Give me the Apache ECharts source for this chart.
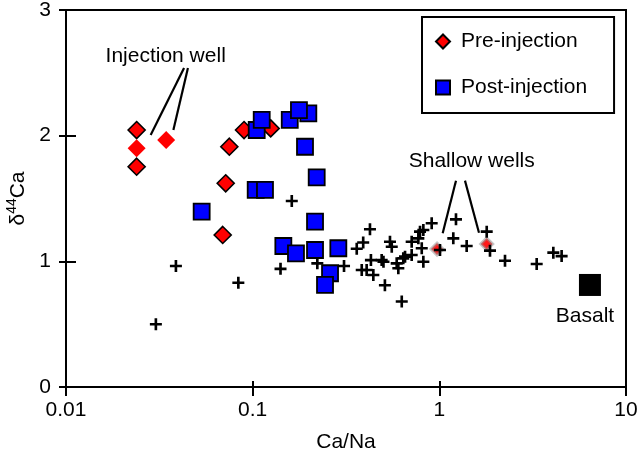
<!DOCTYPE html>
<html><head><meta charset="utf-8">
<script src="https://cdn.jsdelivr.net/npm/echarts@6/dist/echarts.min.js"></script>
<style>html,body{margin:0;padding:0;background:#fff}#c{width:638px;height:455px}</style>
</head><body><div id="c"></div>
<script>
var FONT = 'Liberation Sans, Arial, Helvetica, sans-serif';
var xTicks = [0.01, 0.1, 1, 10];
var yTicks = [0, 1, 2, 3];

var preInjection = [
  [0.0239, 2.045], [0.0239, 1.753], [0.075, 1.912], [0.0717, 1.621],
  [0.0691, 1.21], [0.0899, 2.045], [0.1249, 2.058]
];
var injectionWell = [[0.0239, 1.90], [0.0344, 1.965]];
var postInjection = [
  [0.0533, 1.395], [0.1038, 1.568], [0.1164, 1.568], [0.1051, 2.045],
  [0.1118, 2.125], [0.158, 2.125], [0.1987, 2.178], [0.177, 2.204],
  [0.1907, 1.912], [0.2203, 1.668], [0.2158, 1.316], [0.146, 1.122],
  [0.1706, 1.064], [0.2158, 1.09], [0.2877, 1.104], [0.2597, 0.905],
  [0.2441, 0.812]
];
var shallowWells = [[0.972, 1.098], [1.794, 1.138]];
var otherWells = [
  [0.0388, 0.963], [0.0303, 0.499], [0.0838, 0.83], [0.162, 1.48],
  [0.141, 0.94], [0.222, 0.984], [0.3086, 0.963], [0.361, 1.10],
  [0.391, 1.15], [0.425, 1.255], [0.384, 0.931], [0.443, 0.891],
  [0.511, 0.81], [0.629, 0.68], [0.544, 1.156], [0.556, 1.116],
  [0.491, 1.01], [0.502, 0.997], [0.408, 0.931], [0.711, 1.156],
  [0.591, 0.984], [0.603, 0.945], [0.641, 1.024], [0.655, 1.037],
  [0.711, 1.05], [0.821, 0.997], [0.788, 1.236], [0.821, 1.249],
  [0.910, 1.303], [0.772, 1.183], [0.805, 1.104], [1.228, 1.334],
  [1.188, 1.183], [1.401, 1.122], [1.008, 1.09], [1.794, 1.236],
  [1.868, 1.085], [2.248, 1.005], [3.323, 0.979], [4.08, 1.069],
  [4.52, 1.042], [0.43, 1.01]
];
var basalt = [[6.41, 0.812]];

var labelNotes = [
  {name: 'Injection well', value: [0.0342, 2.634]},
  {name: 'Shallow wells', value: [1.491, 1.798]},
  {name: 'Basalt', value: [6.03, 0.565]}
];
var pointerLines = [
  [[0.0429, 2.538], [0.02842, 2.005]],
  [[0.0450, 2.538], [0.0376, 2.045]],
  [[1.228, 1.642], [1.042, 1.223]],
  [[1.372, 1.642], [1.631, 1.228]]
];

var cross = 'path://M0,3.9H10V6.1H0Z M3.9,0H6.1V10H3.9Z';

var chart = echarts.init(document.getElementById('c'), null, {renderer: 'canvas'});
var xBase = {
  type: 'log', logBase: 10, min: 0.01, max: 10, gridIndex: 0, position: 'bottom',
  splitLine: {show: false}, minorTick: {show: false}
};
var yBase = {
  type: 'value', min: 0, max: 3, interval: 1, gridIndex: 0, position: 'left',
  splitLine: {show: false}
};
chart.setOption({
  animation: false,
  backgroundColor: '#fff',
  textStyle: {fontFamily: FONT, color: '#000'},
  grid: {left: 66, right: 12, top: 10, bottom: 68, outerBoundsMode: 'none', containLabel: false,
    show: true, borderColor: '#000', borderWidth: 2, backgroundColor: 'transparent'},
  legend: {
    data: ['Pre-injection', 'Post-injection'],
    orient: 'vertical', left: 422, top: 17,
    padding: [14, 27, 15, 13],
    itemWidth: 14, itemHeight: 14, itemGap: 25,
    borderColor: '#000', borderWidth: 2,
    textStyle: {fontFamily: FONT, fontSize: 21, color: '#000', lineHeight: 21, padding: [0, 0, 0, 6]}
  },
  xAxis: [
    Object.assign({}, xBase, {
      name: 'Ca/Na', nameLocation: 'middle', nameGap: 45,
      nameTextStyle: {fontFamily: FONT, fontSize: 21, color: '#000'},
      axisLine: {show: true, lineStyle: {color: '#000', width: 2}},
      axisTick: {show: true, inside: true, length: 6, lineStyle: {color: '#000', width: 2}},
      axisLabel: {show: true, margin: 13, fontFamily: FONT, fontSize: 21, color: '#000',
        formatter: function (v) { return xTicks.indexOf(+v) >= 0 ? String(+v) : ''; }}
    }),
    Object.assign({}, xBase, {
      axisLine: {show: false},
      axisTick: {show: true, inside: false, length: 9, lineStyle: {color: '#000', width: 2}},
      axisLabel: {show: false}
    })
  ],
  yAxis: [
    Object.assign({}, yBase, {
      name: '{a|δ}{b|44}{a|Ca}', nameLocation: 'middle', nameGap: 35, nameRotate: 90,
      nameTextStyle: {fontFamily: FONT, fontSize: 21, color: '#000',
        rich: {a: {fontFamily: FONT, fontSize: 21, lineHeight: 26, color: '#000'},
               b: {fontFamily: FONT, fontSize: 14, lineHeight: 14, verticalAlign: 'top', color: '#000'}}},
      axisLine: {show: true, lineStyle: {color: '#000', width: 2}},
      axisTick: {show: true, inside: true, length: 10, lineStyle: {color: '#000', width: 2}},
      axisLabel: {show: true, margin: 15, fontFamily: FONT, fontSize: 21, color: '#000',
        formatter: function (v) { return yTicks.indexOf(+v) >= 0 ? String(v) : ''; }}
    }),
    Object.assign({}, yBase, {
      axisLine: {show: false},
      axisTick: {show: true, inside: false, length: 7, lineStyle: {color: '#000', width: 2}},
      axisLabel: {show: false}
    })
  ],
  series: [
    {name: 'Shallow wells', type: 'scatter', data: shallowWells, symbol: 'diamond', symbolSize: 12,
      itemStyle: {color: '#ff1a1a', borderColor: 'rgba(150,150,150,0.55)', borderWidth: 3, opacity: 1}, z: 2},
    {name: 'Other wells', type: 'scatter', data: otherWells, symbol: cross, symbolSize: 12,
      itemStyle: {color: '#000', opacity: 1}, z: 3},
    {name: 'Pre-injection', type: 'scatter', data: preInjection, symbol: 'diamond', symbolSize: 17,
      itemStyle: {color: '#ff0000', borderColor: '#000', borderWidth: 1.6, opacity: 1}, z: 4},
    {name: 'Injection well', type: 'scatter', data: injectionWell, symbol: 'diamond', symbolSize: 18,
      itemStyle: {color: '#ff0000', opacity: 1}, z: 4},
    {name: 'Post-injection', type: 'scatter', data: postInjection, symbol: 'rect', symbolSize: 16,
      itemStyle: {color: '#0000ff', borderColor: '#000', borderWidth: 1.8, opacity: 1}, z: 5},
    {name: 'Basalt', type: 'scatter', data: basalt, symbol: 'rect', symbolSize: 22,
      itemStyle: {color: '#000', opacity: 1}, z: 5},
    {name: 'Notes', type: 'scatter', data: labelNotes, symbolSize: 0, silent: true, z: 6,
      itemStyle: {opacity: 1},
      label: {show: true, position: 'inside', formatter: '{b}', fontFamily: FONT, fontSize: 21, color: '#000', opacity: 1},
      markLine: {
        silent: true, symbol: 'none', animation: false,
        label: {show: false},
        lineStyle: {color: '#000', width: 2.2, type: 'solid', opacity: 1},
        data: pointerLines.map(function (p) { return [{coord: p[0]}, {coord: p[1]}]; })
      }}
  ]
});
</script></body></html>
